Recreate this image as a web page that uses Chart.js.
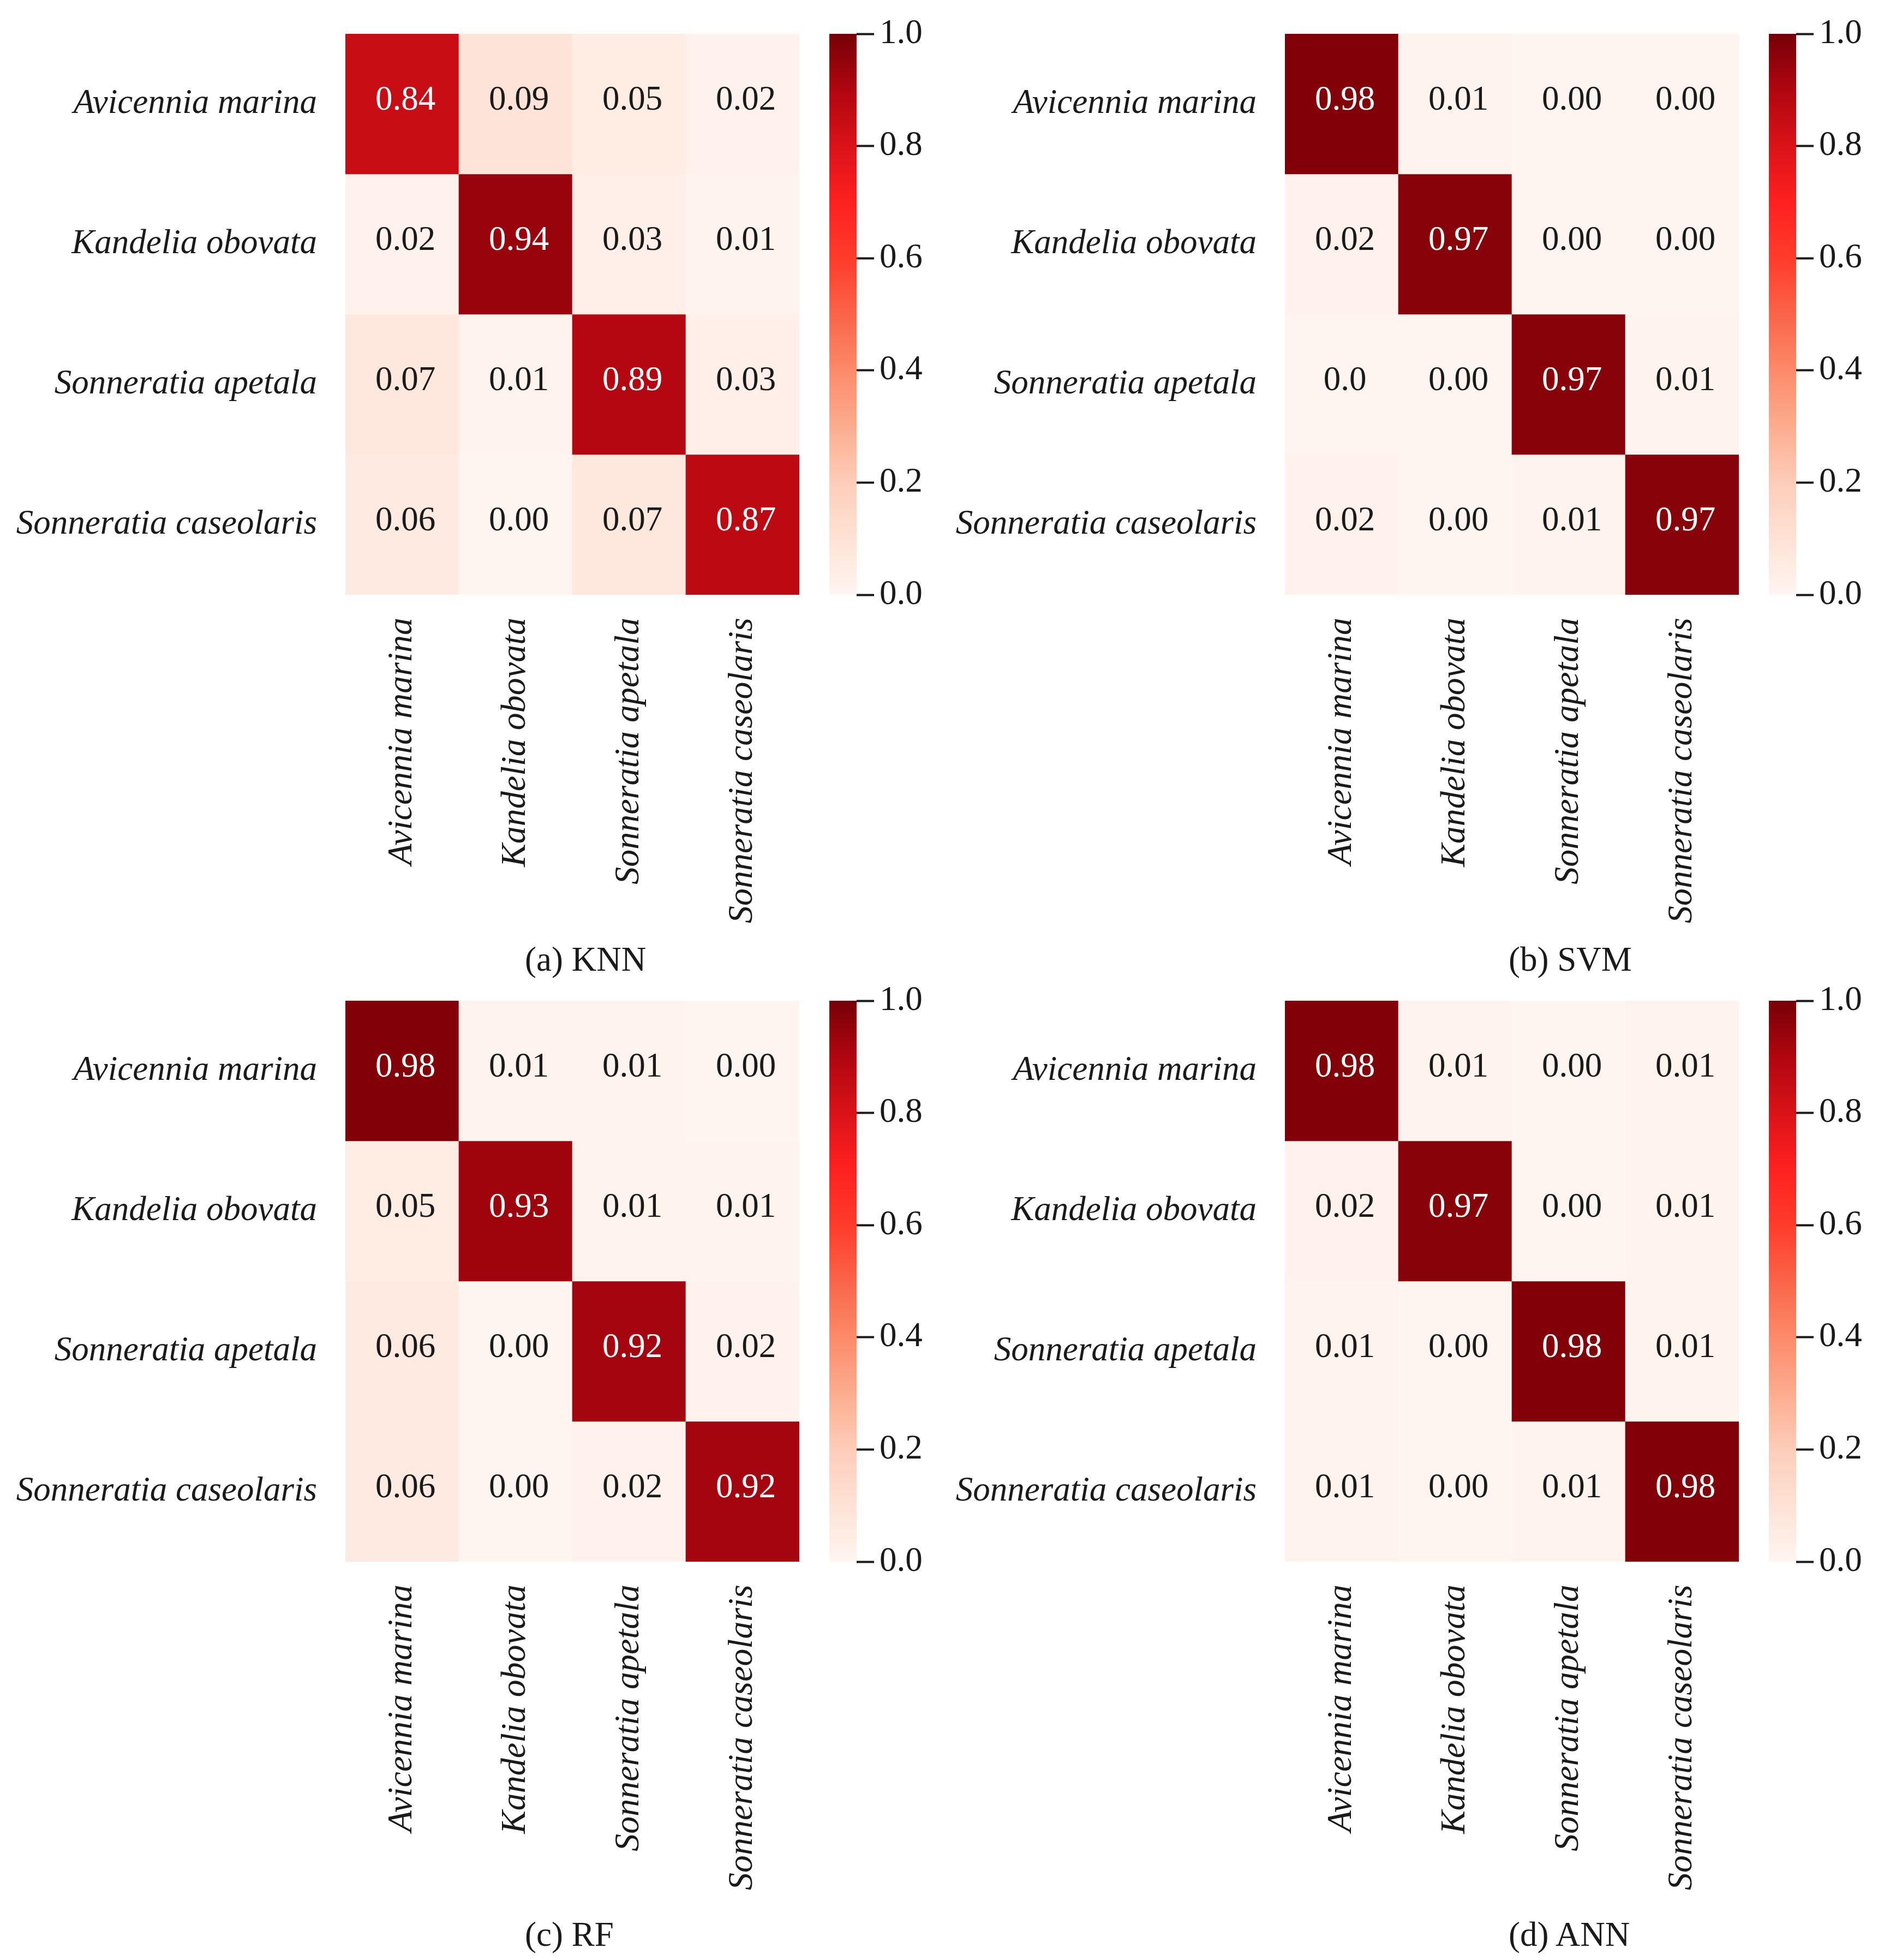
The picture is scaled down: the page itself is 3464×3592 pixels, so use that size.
<!DOCTYPE html>
<html>
<head>
<meta charset="utf-8">
<script src="https://cdn.jsdelivr.net/npm/chart.js@4.4.1/dist/chart.umd.min.js"></script>
<style>
  body { margin: 0; background: #fff; width: 3464px; height: 3592px; position: relative; overflow: hidden; }
  canvas { position: absolute; }
  .cap { position: absolute; font-family: 'Liberation Serif', 'Times New Roman', serif; font-size: 63px; line-height: 64px; color: #1a1a1a; white-space: nowrap; }
</style>
</head>
<body>
<script>
const rowNames = ['Avicennia marina', 'Kandelia obovata', 'Sonneratia apetala', 'Sonneratia caseolaris'];
const colNames = ['Avicennia marina', 'Kandelia obovata', 'Sonneratia apetala', 'Sonneratia caseolaris'];

// annotations as printed in each cell
const knn = [
    ['0.84', '0.09', '0.05', '0.02'],
    ['0.02', '0.94', '0.03', '0.01'],
    ['0.07', '0.01', '0.89', '0.03'],
    ['0.06', '0.00', '0.07', '0.87']
];
const svm = [
    ['0.98', '0.01', '0.00', '0.00'],
    ['0.02', '0.97', '0.00', '0.00'],
    ['0.0', '0.00', '0.97', '0.01'],
    ['0.02', '0.00', '0.01', '0.97']
];
const rf = [
    ['0.98', '0.01', '0.01', '0.00'],
    ['0.05', '0.93', '0.01', '0.01'],
    ['0.06', '0.00', '0.92', '0.02'],
    ['0.06', '0.00', '0.02', '0.92']
];
const ann = [
    ['0.98', '0.01', '0.00', '0.01'],
    ['0.02', '0.97', '0.00', '0.01'],
    ['0.01', '0.00', '0.98', '0.01'],
    ['0.01', '0.00', '0.01', '0.98']
];
const cbTicks = [0, 0.2, 0.4, 0.6, 0.8, 1.0];

// Reds-like colour ramp
const ramp = [
    [0.0, [255, 245, 240]],
    [0.1, [254, 226, 213]],
    [0.2, [253, 205, 185]],
    [0.3, [252, 172, 142]],
    [0.4, [252, 138, 106]],
    [0.5, [250, 100, 72]],
    [0.6, [255, 60, 42]],
    [0.7, [255, 32, 32]],
    [0.8, [218, 18, 24]],
    [0.9, [176, 6, 16]],
    [1.0, [118, 0, 6]]
];

function cmap(v) {
    v = Math.max(0, Math.min(1, v));
    for (let i = 1; i < ramp.length; i++) {
        if (v <= ramp[i][0]) {
            const [a, ca] = ramp[i - 1], [b, cb] = ramp[i];
            const t = (v - a) / (b - a);
            const c = ca.map((x, k) => Math.round(x + (cb[k] - x) * t));
            return 'rgb(' + c.join(',') + ')';
        }
    }
    return 'rgb(' + ramp[ramp.length - 1][1].join(',') + ')';
}

const FONT = "'Liberation Serif', 'Times New Roman', serif";
const FS = 63;
const INK = '#1a1a1a';

const panels = [
    {title: '(a) KNN', m: knn, ox: 0, oy: 0, capX: 962, capY: 1758},
    {title: '(b) SVM', m: svm, ox: 1722, oy: 0, capX: 2765, capY: 1758},
    {title: '(c) RF', m: rf, ox: 0, oy: 1772, capX: 962, capY: 3545},
    {title: '(d) ANN', m: ann, ox: 1722, oy: 1772, capX: 2765, capY: 3545}
];

const cellText = {
    id: 'cellText',
    afterDatasetsDraw(chart) {
        const ctx = chart.ctx;
        const m = chart.options.plugins.cellText.matrix;
        ctx.save();
        ctx.font = FS + 'px ' + FONT;
        ctx.textAlign = 'center';
        ctx.textBaseline = 'middle';
        chart.data.datasets.forEach((ds, r) => {
            chart.getDatasetMeta(r).data.forEach((bar, c) => {
                const p = bar.getCenterPoint();
                const v = parseFloat(m[r][c]);
                ctx.fillStyle = v > 0.5 ? '#ffffff' : INK;
                ctx.fillText(m[r][c], p.x + 6, p.y - 6);
            });
        });
        ctx.restore();
    }
};

// keep tick labels from pushing the plot area around
function noPad(s) {
    s.paddingTop = 0;
    s.paddingBottom = 0;
}

function addCanvas(left, top, w, h) {
    const cv = document.createElement('canvas');
    cv.width = w;
    cv.height = h;
    cv.style.left = left + 'px';
    cv.style.top = top + 'px';
    cv.style.width = w + 'px';
    cv.style.height = h + 'px';
    document.body.appendChild(cv);
    return cv;
}

panels.forEach(p => {
    // heatmap
    const hm = addCanvas(p.ox, p.oy + 22, 1475, 1688);
    new Chart(hm, {
        type: 'bar',
        data: {
            labels: colNames,
            datasets: p.m.map((row, r) => ({
                label: rowNames[r],
                data: row.map(() => 1),
                backgroundColor: row.map(s => cmap(parseFloat(s))),
                borderWidth: 0,
                barPercentage: 1,
                categoryPercentage: 1,
                stack: 'cm'
            }))
        },
        options: {
            responsive: false,
            animation: false,
            devicePixelRatio: 1,
            layout: {padding: {top: 40, left: 0, right: 10, bottom: 0}},
            plugins: {
                legend: {display: false},
                tooltip: {enabled: false},
                cellText: {matrix: p.m}
            },
            scales: {
                x: {
                    stacked: true,
                    grid: {display: false},
                    border: {display: false},
                    ticks: {
                        maxRotation: 90, minRotation: 90, autoSkip: false, padding: 34,
                        color: INK,
                        font: {family: FONT, size: 64, style: 'italic'}
                    },
                    afterFit: s => { s.height = 620; }
                },
                y: {
                    stacked: true,
                    reverse: true,
                    min: 0,
                    max: rowNames.length,
                    grid: {display: false},
                    border: {display: false},
                    afterBuildTicks: s => { s.ticks = rowNames.map((_, i) => ({value: i + 0.5})); },
                    ticks: {
                        padding: 44,
                        color: INK,
                        font: {family: FONT, size: FS, style: 'italic'},
                        callback: (v, i) => rowNames[i]
                    },
                    afterFit: s => { s.width = 633; noPad(s); }
                }
            }
        },
        plugins: [cellText]
    });

    // colour bar
    const cb = addCanvas(p.ox + 1510, p.oy + 22, 260, 1108);
    new Chart(cb, {
        type: 'bar',
        data: {
            labels: [''],
            datasets: [{
                data: [[cbTicks[0], cbTicks[cbTicks.length - 1]]],
                backgroundColor: (ctx) => {
                    const area = ctx.chart.chartArea;
                    if (!area) return cmap(0.5);
                    const g = ctx.chart.ctx.createLinearGradient(0, area.bottom, 0, area.top);
                    for (let i = 0; i <= 50; i++) g.addColorStop(i / 50, cmap(i / 50));
                    return g;
                },
                borderWidth: 0,
                barPercentage: 1,
                categoryPercentage: 1
            }]
        },
        options: {
            responsive: false,
            animation: false,
            devicePixelRatio: 1,
            layout: {padding: {top: 40, bottom: 40, left: 10, right: 0}},
            plugins: {legend: {display: false}, tooltip: {enabled: false}},
            scales: {
                x: {display: false},
                y: {
                    position: 'right',
                    min: 0,
                    max: 1,
                    afterBuildTicks: s => { s.ticks = cbTicks.map(v => ({value: v})); },
                    grid: {drawOnChartArea: false, drawTicks: true, tickLength: 32, tickWidth: 4, tickColor: '#1a1a1a'},
                    border: {display: false},
                    ticks: {
                        padding: 10,
                        color: INK,
                        font: {family: FONT, size: FS},
                        callback: v => Number(v).toFixed(1)
                    },
                    afterFit: s => { s.width = 200; noPad(s); }
                }
            }
        }
    });

    const cap = document.createElement('div');
    cap.className = 'cap';
    cap.textContent = p.title;
    cap.style.left = p.capX + 'px';
    cap.style.top = (p.capY - 32) + 'px';
    document.body.appendChild(cap);
});
</script>
</body>
</html>
